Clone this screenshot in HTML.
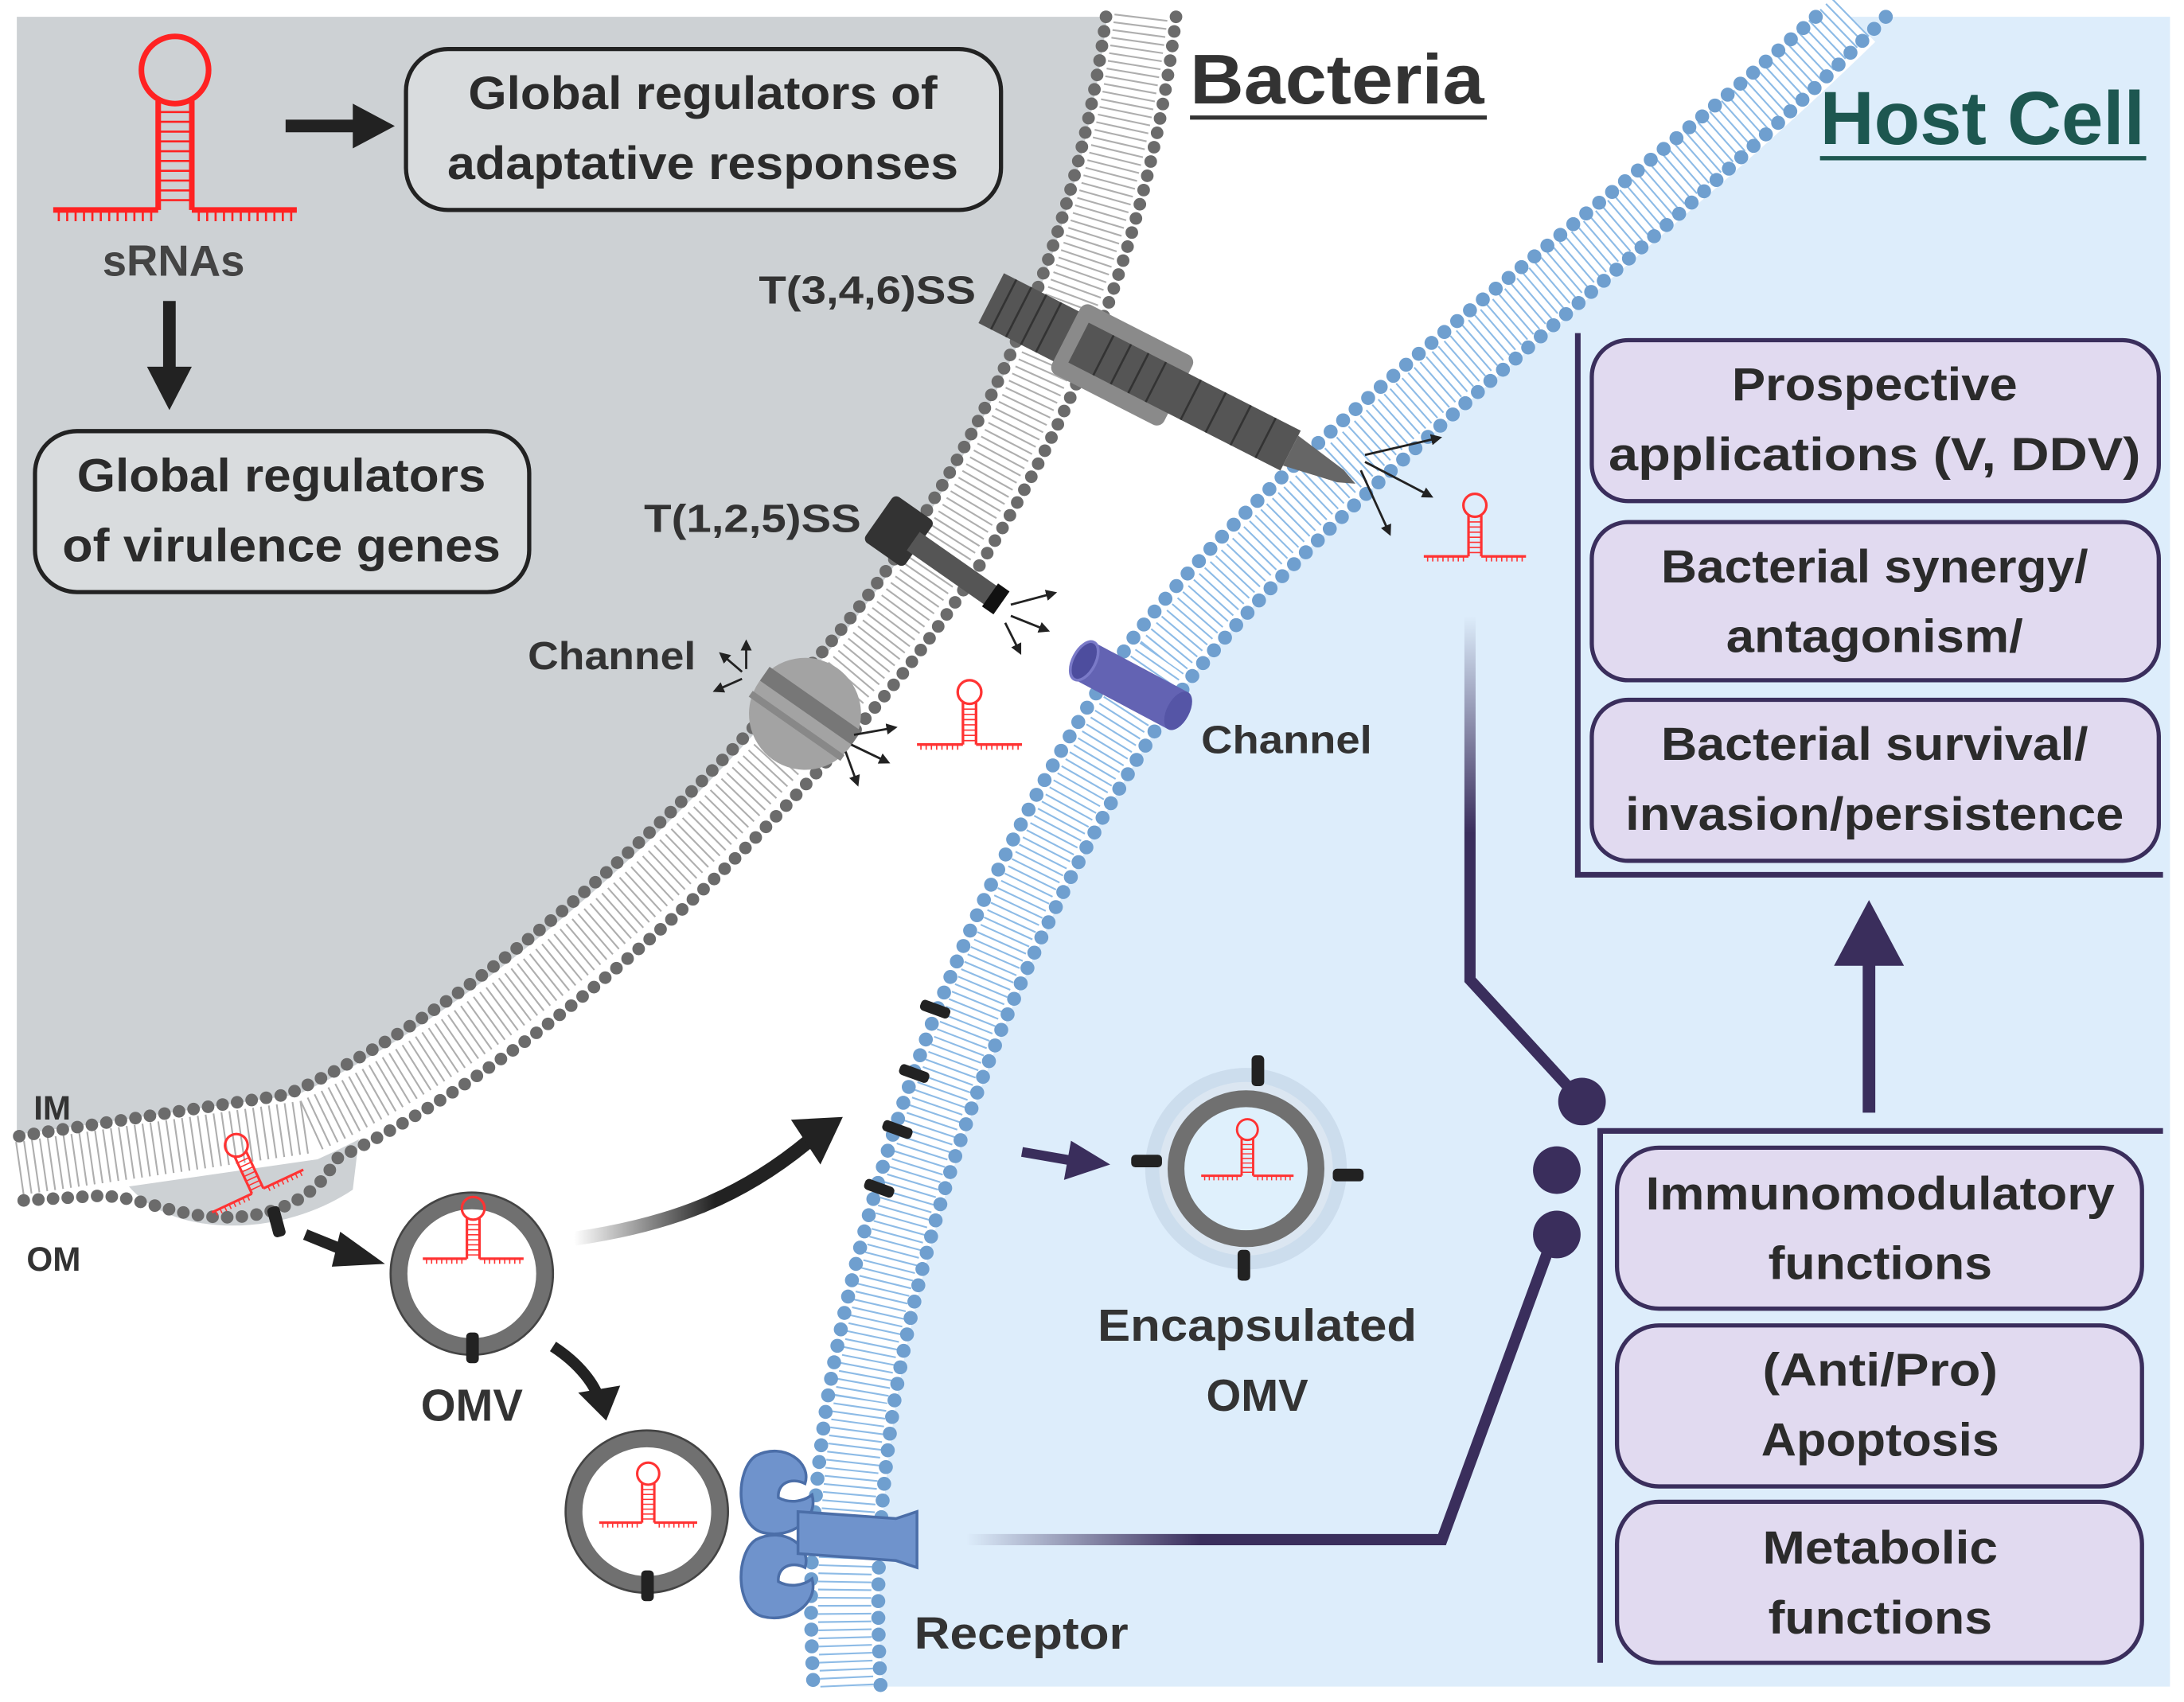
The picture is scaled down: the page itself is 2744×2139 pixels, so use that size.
<!DOCTYPE html>
<html><head><meta charset="utf-8"><style>
html,body{margin:0;padding:0;background:#fff}
svg{display:block}
text{font-family:"Liberation Sans",sans-serif;font-weight:bold}
</style></head><body>
<svg width="2744" height="2139" viewBox="0 0 1560 1216" xmlns="http://www.w3.org/2000/svg" fill="#2b2b2b">
<defs>
<linearGradient id="fadeV" x1="0" y1="0" x2="0" y2="1"><stop offset="0" stop-color="#3a2e5c" stop-opacity="0"/><stop offset="0.45" stop-color="#3a2e5c"/></linearGradient>
<linearGradient id="fadeH" x1="0" y1="0" x2="1" y2="0"><stop offset="0" stop-color="#3a2e5c" stop-opacity="0"/><stop offset="0.4" stop-color="#3a2e5c"/></linearGradient>
<linearGradient id="fadeK" x1="0" y1="0" x2="1" y2="0"><stop offset="0" stop-color="#222" stop-opacity="0"/><stop offset="0.6" stop-color="#222"/></linearGradient>
<symbol id="hp" viewBox="0 0 80 70" overflow="visible">
<circle cx="40" cy="12" r="9" fill="none" stroke="#f33" stroke-width="2"/>
<line x1="35" y1="20" x2="35" y2="52" stroke="#f33" stroke-width="2"/>
<line x1="45" y1="20" x2="45" y2="52" stroke="#f33" stroke-width="2"/>
<path d="M35 25h10M35 29h10M35 33h10M35 37h10M35 41h10M35 45h10M35 49h10" stroke="#f33" stroke-width="1"/>
<path d="M0 52h35M45 52h35" stroke="#f33" stroke-width="2"/>
<path d="M3 52v4M7 52v4M11 52v4M15 52v4M19 52v4M23 52v4M27 52v4M31 52v4M49 52v4M53 52v4M57 52v4M61 52v4M65 52v4M69 52v4M73 52v4M77 52v4" stroke="#f33" stroke-width="1"/>
</symbol>
<marker id="ah" markerWidth="6" markerHeight="6" refX="3" refY="3" orient="auto" markerUnits="strokeWidth"><path d="M0,0.5 L5,3 L0,5.5z" fill="#222"/></marker>
</defs>

<!-- backgrounds -->
<path d="M12 12 H815 C790 220 690 400 575 520 C450 660 320 760 220 805 L12 835 Z" fill="#cdd1d4"/>
<path d="M1322 12 C1160 170 950 320 830 470 C710 640 640 850 615 1000 C600 1100 603 1160 605 1205 H1550 V12 Z" fill="#ddedfb"/>
<path d="M90 845 C120 885 200 885 252 850 L258 800 Z" fill="#cdd1d4"/>

<!-- bacterial membrane -->
<path d="M815 12 C790 220 690 400 575 520 C450 660 320 760 220 805 L12 835" fill="none" stroke="#fff" stroke-width="48"/>
<path d="M815 12 C790 220 690 400 575 520 C450 660 320 760 220 805 L12 835" fill="none" stroke="#9a9a9a" stroke-width="38" stroke-dasharray="1.2 4.5" opacity="0.8"/>
<path d="M790 12 C765 210 668 385 556 500 C430 640 300 740 205 782 L12 812" fill="none" stroke="#6b6b6b" stroke-width="9" stroke-linecap="round" stroke-dasharray="0 10.5"/>
<path d="M840 12 C815 230 712 415 594 540 C470 680 340 780 240 828 C225 860 185 875 140 868 C105 862 90 852 60 855 L12 858" fill="none" stroke="#6b6b6b" stroke-width="9" stroke-linecap="round" stroke-dasharray="0 10.5"/>

<!-- host membrane -->
<path d="M1322 12 C1160 170 950 320 830 470 C710 640 640 850 615 1000 C600 1100 603 1160 605 1205" fill="none" stroke="#fff" stroke-width="50"/>
<path d="M1322 12 C1160 170 950 320 830 470 C710 640 640 850 615 1000 C600 1100 603 1160 605 1205" fill="none" stroke="#8dbbe6" stroke-width="38" stroke-dasharray="1.2 4.5"/>
<path d="M1297 12 C1137 158 928 305 810 455 C688 628 617 845 591 1000 C576 1100 579 1160 581 1205" fill="none" stroke="#6f9fcf" stroke-width="10" stroke-linecap="round" stroke-dasharray="0 12"/>
<path d="M1347 12 C1183 182 972 335 850 485 C732 652 663 855 639 1000 C624 1100 627 1160 629 1205" fill="none" stroke="#6f9fcf" stroke-width="10" stroke-linecap="round" stroke-dasharray="0 12"/>

<!-- black bars on host membrane -->
<g fill="#222"><rect x="657" y="717" width="22" height="8" rx="3" transform="rotate(20 668 721)"/><rect x="642" y="763" width="22" height="8" rx="3" transform="rotate(20 653 767)"/><rect x="630" y="803" width="22" height="8" rx="3" transform="rotate(20 641 807)"/><rect x="617" y="845" width="22" height="8" rx="3" transform="rotate(20 628 849)"/></g>

<!-- T346SS -->
<g transform="translate(708,213) rotate(27)">
<rect x="0" y="-20" width="70" height="40" fill="#555"/>
<rect x="60" y="-28" width="90" height="56" rx="6" fill="#8a8a8a"/>
<rect x="70" y="-16" width="170" height="32" fill="#555"/>
<path d="M240 -12 L280 -5 L292 0 L280 5 L240 12Z" fill="#666"/>
<path d="M10 -20v40M22 -20v40M34 -20v40M46 -20v40M90 -16v32M104 -16v32M118 -16v32M132 -16v32M160 -16v32M180 -16v32M200 -16v32M220 -16v32" stroke="#333" stroke-width="1.5"/>
</g>
<!-- T125SS -->
<g transform="translate(640,378) rotate(35)">
<rect x="-15" y="-20" width="35" height="40" rx="4" fill="#333"/>
<rect x="15" y="-8" width="70" height="16" fill="#555"/>
<rect x="82" y="-10" width="10" height="20" fill="#111"/>
</g>
<!-- channel ball -->
<g transform="rotate(35 575 510)"><circle cx="575" cy="510" r="40" fill="#a3a3a3"/><rect x="535" y="497" width="80" height="12" fill="#777"/><rect x="535" y="518" width="80" height="5" fill="#888"/></g>
<!-- small arrows -->
<g stroke="#222" stroke-width="1.6" fill="none" marker-end="url(#ah)">
<path d="M722 432 l30 -8"/><path d="M722 440 l25 10"/><path d="M718 445 l10 20"/>
<path d="M530 485 l-18 8"/><path d="M530 480 l-14 -12"/><path d="M533 478 l0 -18"/>
<path d="M610 525 l28 -5"/><path d="M608 532 l25 12"/><path d="M604 537 l8 22"/>
<path d="M975 325 l52 -12"/><path d="M975 330 l46 24"/><path d="M972 336 l20 44"/>
</g>
<!-- blue channel -->
<g transform="rotate(28 808 490)"><rect x="770" y="475" width="76" height="30" fill="#6363b3"/><ellipse cx="846" cy="490" rx="8" ry="15" fill="#5555a6"/><ellipse cx="770" cy="490" rx="8" ry="15" fill="#4d4d9e" stroke="#7a7ac8" stroke-width="2"/></g>

<!-- big sRNA -->
<circle cx="125" cy="50" r="24" fill="none" stroke="#f22" stroke-width="4"/>
<line x1="113" y1="72" x2="113" y2="150" stroke="#f22" stroke-width="4"/>
<line x1="137" y1="72" x2="137" y2="150" stroke="#f22" stroke-width="4"/>
<path d="M113 80h24M113 87h24M113 94h24M113 101h24M113 108h24M113 115h24M113 122h24M113 129h24M113 136h24M113 143h24" stroke="#f22" stroke-width="1.5"/>
<path d="M38 150h75M137 150h75" stroke="#f22" stroke-width="4"/>
<path d="M42 150v8M48 150v8M54 150v8M60 150v8M66 150v8M72 150v8M78 150v8M84 150v8M90 150v8M96 150v8M102 150v8M108 150v8M142 150v8M148 150v8M154 150v8M160 150v8M166 150v8M172 150v8M178 150v8M184 150v8M190 150v8M196 150v8M202 150v8M208 150v8" stroke="#f22" stroke-width="1.5"/>
<text x="124" y="197" font-size="31" text-anchor="middle" fill="#444">sRNAs</text>

<!-- black arrows top -->
<path d="M204 90 H255" stroke="#222" stroke-width="9"/><path d="M252 74 L282 90 L252 106Z" fill="#222"/>
<path d="M121 215 V265" stroke="#222" stroke-width="9"/><path d="M105 262 L121 293 L137 262Z" fill="#222"/>

<!-- gray boxes -->
<rect x="290" y="35" width="425" height="115" rx="30" fill="#d9dcde" stroke="#222" stroke-width="3"/>
<text x="502" y="78" font-size="33" text-anchor="middle" textLength="335" lengthAdjust="spacingAndGlyphs">Global regulators of</text>
<text x="502" y="128" font-size="33" text-anchor="middle" textLength="365" lengthAdjust="spacingAndGlyphs">adaptative responses</text>
<rect x="25" y="308" width="353" height="115" rx="30" fill="#d9dcde" stroke="#222" stroke-width="3"/>
<text x="201" y="351" font-size="33" text-anchor="middle" textLength="292" lengthAdjust="spacingAndGlyphs">Global regulators</text>
<text x="201" y="401" font-size="33" text-anchor="middle" textLength="313" lengthAdjust="spacingAndGlyphs">of virulence genes</text>

<!-- titles -->
<text x="850" y="74" font-size="50" textLength="210" lengthAdjust="spacingAndGlyphs" fill="#333">Bacteria</text>
<line x1="850" y1="84" x2="1062" y2="84" stroke="#333" stroke-width="3"/>
<text x="1300" y="103" font-size="54" textLength="232" lengthAdjust="spacingAndGlyphs" fill="#1d5750" style="fill:#1d5750">Host Cell</text>
<line x1="1300" y1="113" x2="1533" y2="113" stroke="#1d5750" stroke-width="3"/>

<!-- labels -->
<text x="697" y="217" font-size="28" text-anchor="end" textLength="155" lengthAdjust="spacingAndGlyphs" fill="#333">T(3,4,6)SS</text>
<text x="615" y="380" font-size="28" text-anchor="end" textLength="155" lengthAdjust="spacingAndGlyphs" fill="#333">T(1,2,5)SS</text>
<text x="497" y="478" font-size="28" text-anchor="end" textLength="120" lengthAdjust="spacingAndGlyphs" fill="#333">Channel</text>
<text x="858" y="538" font-size="28" textLength="122" lengthAdjust="spacingAndGlyphs" fill="#333">Channel</text>
<text x="24" y="800" font-size="24" fill="#333">IM</text>
<text x="19" y="908" font-size="24" fill="#333">OM</text>
<text x="337" y="1015" font-size="32" text-anchor="middle" fill="#333">OMV</text>
<text x="898" y="958" font-size="32" text-anchor="middle" textLength="228" lengthAdjust="spacingAndGlyphs" fill="#333">Encapsulated</text>
<text x="898" y="1008" font-size="32" text-anchor="middle" fill="#333">OMV</text>
<text x="653" y="1178" font-size="32" textLength="153" lengthAdjust="spacingAndGlyphs" fill="#333">Receptor</text>

<!-- OMVs -->
<circle cx="337" cy="910" r="52" fill="none" stroke="#707070" stroke-width="12"/>
<circle cx="337" cy="910" r="58" fill="none" stroke="#444" stroke-width="1.5"/>
<rect x="333" y="952" width="9" height="22" rx="3" fill="#222"/>
<circle cx="462" cy="1080" r="52" fill="none" stroke="#707070" stroke-width="12"/>
<circle cx="462" cy="1080" r="58" fill="none" stroke="#444" stroke-width="1.5"/>
<rect x="458" y="1122" width="9" height="22" rx="3" fill="#222"/>
<circle cx="890" cy="835" r="72" fill="#c8d8ea" opacity="0.8"/>
<circle cx="890" cy="835" r="62" fill="#dbe6f1"/>
<circle cx="890" cy="835" r="50" fill="#dff0fc" stroke="#707070" stroke-width="12"/>
<g fill="#222"><rect x="894" y="754" width="9" height="22" rx="3"/><rect x="884" y="893" width="9" height="22" rx="3"/><rect x="808" y="825" width="22" height="9" rx="3"/><rect x="952" y="835" width="22" height="9" rx="3"/></g>

<!-- hairpins -->
<use href="#hp" x="655" y="483" width="75" height="66"/>
<use href="#hp" x="1017" y="350" width="73" height="64"/>
<use href="#hp" x="858" y="797" width="66" height="58"/>
<use href="#hp" x="302" y="852" width="72" height="64"/>
<use href="#hp" x="428" y="1042" width="70" height="62"/>
<g transform="rotate(-25 178 838)"><use href="#hp" x="142" y="805" width="72" height="64"/></g>
<rect x="193" y="862" width="9" height="22" rx="3" fill="#222" transform="rotate(-15 197 873)"/>

<!-- receptor -->
<g fill="#6f93cc" stroke="#4b6ea8" stroke-width="2">
<path d="M540 1040 C560 1030 580 1045 575 1060 C565 1055 555 1060 556 1070 C565 1075 575 1072 580 1068 C585 1085 565 1100 545 1095 C525 1090 525 1050 540 1040Z"/>
<path d="M540 1100 C560 1090 580 1105 575 1120 C565 1115 555 1120 556 1130 C565 1135 575 1132 580 1128 C585 1145 565 1160 545 1155 C525 1150 525 1110 540 1100Z"/>
<path d="M570 1080 L640 1085 L655 1080 L655 1120 L640 1115 L570 1110Z"/>
</g>

<!-- black curved arrows -->
<path d="M218 882 L250 895" stroke="#222" stroke-width="8"/><path d="M243 880 L275 903 L237 905Z" fill="#222"/>
<path d="M410 885 C480 875 530 855 578 815" stroke="url(#fadeK)" stroke-width="10" fill="none"/><path d="M565 800 L602 798 L586 832Z" fill="#222"/>
<path d="M395 962 C415 975 425 990 428 1000" stroke="#222" stroke-width="8" fill="none"/><path d="M413 995 L433 1015 L443 990Z" fill="#222"/>
<path d="M730 823 L770 830" stroke="#3a2e5c" stroke-width="7"/><path d="M765 815 L793 832 L760 843Z" fill="#3a2e5c"/>

<!-- connectors -->
<path d="M1050 440 V700 L1128 785" stroke="url(#fadeV)" stroke-width="8" fill="none"/>
<circle cx="1130" cy="787" r="17" fill="#3a2e5c"/>
<path d="M1000 835 H1110" stroke="url(#fadeH)" stroke-width="8"/>
<circle cx="1112" cy="836" r="17" fill="#3a2e5c"/>
<path d="M690 1100 H1030 L1110 882" stroke="url(#fadeH)" stroke-width="8" fill="none"/>
<circle cx="1112" cy="882" r="17" fill="#3a2e5c"/>
<path d="M1335 795 V685" stroke="#3a2e5c" stroke-width="9"/><path d="M1310 690 L1335 643 L1360 690Z" fill="#3a2e5c"/>

<!-- brackets -->
<path d="M1127 238 V625 H1545" stroke="#3a2e5c" stroke-width="4" fill="none"/>
<path d="M1143 1188 V808 H1545" stroke="#3a2e5c" stroke-width="4" fill="none"/>

<!-- purple boxes -->
<g fill="#e1daf0" stroke="#3a2e5c" stroke-width="3">
<rect x="1137" y="243" width="405" height="115" rx="26"/>
<rect x="1137" y="373" width="405" height="113" rx="26"/>
<rect x="1137" y="500" width="405" height="115" rx="26"/>
<rect x="1155" y="820" width="375" height="115" rx="30"/>
<rect x="1155" y="947" width="375" height="115" rx="30"/>
<rect x="1155" y="1073" width="375" height="115" rx="30"/>
</g>
<g font-size="33" text-anchor="middle" fill="#2b2b2b">
<text x="1339" y="286" textLength="204" lengthAdjust="spacingAndGlyphs">Prospective</text>
<text x="1339" y="336" textLength="380" lengthAdjust="spacingAndGlyphs">applications (V, DDV)</text>
<text x="1339" y="416" textLength="305" lengthAdjust="spacingAndGlyphs">Bacterial synergy/</text>
<text x="1339" y="466" textLength="212" lengthAdjust="spacingAndGlyphs">antagonism/</text>
<text x="1339" y="543" textLength="305" lengthAdjust="spacingAndGlyphs">Bacterial survival/</text>
<text x="1339" y="593" textLength="356" lengthAdjust="spacingAndGlyphs">invasion/persistence</text>
<text x="1343" y="864" textLength="335" lengthAdjust="spacingAndGlyphs">Immunomodulatory</text>
<text x="1343" y="914" textLength="160" lengthAdjust="spacingAndGlyphs">functions</text>
<text x="1343" y="990" textLength="168" lengthAdjust="spacingAndGlyphs">(Anti/Pro)</text>
<text x="1343" y="1040" textLength="170" lengthAdjust="spacingAndGlyphs">Apoptosis</text>
<text x="1343" y="1117" textLength="168" lengthAdjust="spacingAndGlyphs">Metabolic</text>
<text x="1343" y="1167" textLength="160" lengthAdjust="spacingAndGlyphs">functions</text>
</g>
</svg>
</body></html>
